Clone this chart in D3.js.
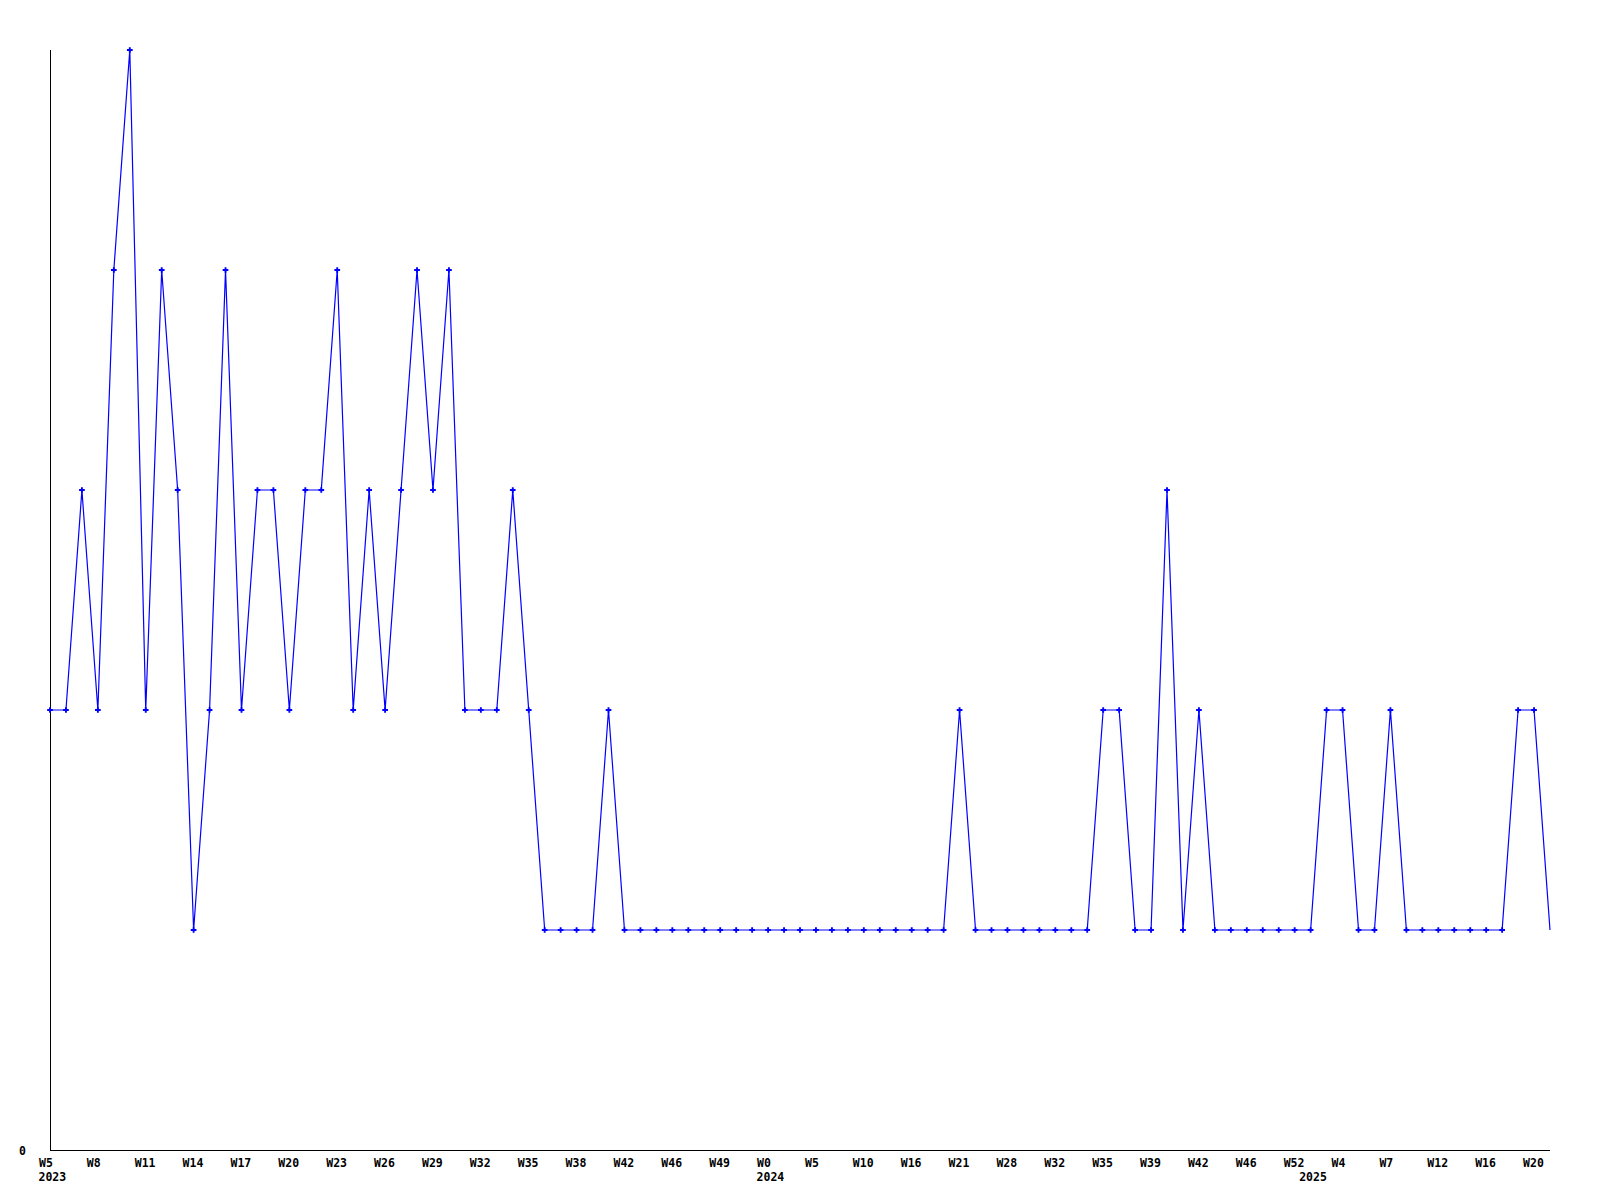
<!DOCTYPE html>
<html><head><meta charset="utf-8">
<script src="https://cdn.jsdelivr.net/npm/d3@7"></script>
<style>
html,body{margin:0;padding:0;background:#fff;}
svg text{font-family:"DejaVu Sans Mono","Liberation Mono",monospace;font-weight:bold;font-size:11.5px;fill:#000;}
</style></head>
<body>
<svg id="chart" width="1600" height="1200"></svg>
<script>
// weekly values, one per point
const values = [2,2,3,2,4,5,2,4,3,1, 2,4,2,3,3,2,3,3,4,2, 3,2,3,4,3,4,2,2,2,3,
  2,1,1,1,1,2,1,1,1,1, 1,1,1,1,1,1,1,1,1,1, 1,1,1,1,1,1,1,2,1,1,
  1,1,1,1,1,1,2,2,1,1, 3,1,2,1,1,1,1,1,1,1, 2,2,1,1,2,1,1,1,1,1,
  1,1,2,2,1];
// labels shown under every third point
const tickLabels = ["W5","W8","W11","W14","W17","W20","W23","W26","W29","W32","W35","W38",
  "W42","W46","W49","W0","W5","W10","W16","W21","W28","W32","W35","W39","W42","W46","W52",
  "W4","W7","W12","W16","W20"];
const yearLabels = ["2023","2024","2025"];
const yearStartIndex = [0,45,79];
const yTickLabels = ["0"];

(function(){
const svg = d3.select("#chart");
const mLeft = 50, mRight = 1550, mTop = 50, mBottom = 1150;
const idx = d3.range(values.length);
const x = d3.scalePoint().domain(idx).range([mLeft, mRight]);
const y = d3.scaleLinear().domain([0, 5]).range([mBottom, mTop]);

// axes lines
svg.append("line").attr("x1", mLeft+0.5).attr("x2", mLeft+0.5).attr("y1", mTop).attr("y2", mBottom)
  .attr("stroke", "#000").attr("stroke-width", 1).attr("shape-rendering","crispEdges");
svg.append("line").attr("x1", mLeft).attr("x2", mRight).attr("y1", mBottom+0.5).attr("y2", mBottom+0.5)
  .attr("stroke", "#000").attr("stroke-width", 1).attr("shape-rendering","crispEdges");

// x axis labels
const xAxis = d3.axisBottom(x)
  .tickValues(idx.filter(i => i % 3 === 0 && i/3 < tickLabels.length))
  .tickFormat(i => tickLabels[i/3])
  .tickSize(0).tickPadding(0);
const gx = svg.append("g").attr("transform", `translate(0,${mBottom})`).call(xAxis);
gx.select(".domain").remove();
gx.selectAll("text").attr("text-anchor","start").attr("dx", -11.5).attr("y", 0).attr("dy", 17)
  .attr("fill","#000");

// year labels
svg.append("g").selectAll("text").data(yearLabels).join("text")
  .attr("x", (d,i) => x(yearStartIndex[i]) - 11.5)
  .attr("y", mBottom + 31)
  .text(d => d);

// y axis label
const yAxis = d3.axisLeft(y).tickValues([0]).tickFormat((d,i) => yTickLabels[i]).tickSize(0).tickPadding(0);
const gy = svg.append("g").attr("transform", `translate(${mLeft},0)`).call(yAxis);
gy.select(".domain").remove();
gy.selectAll("text").attr("text-anchor","end").attr("dx", -24).attr("dy", "0.35em").attr("fill","#000");

// line
const line = d3.line().x((d,i) => x(i)).y(d => y(d));
svg.append("path").datum(values).attr("d", line)
  .attr("fill","none").attr("stroke","#0000ff").attr("stroke-width",1.2);

// markers (last point has none)
svg.append("g").selectAll("path").data(values.slice(0, values.length-1)).join("path")
  .attr("transform", (d,i) => `translate(${x(i)},${y(d)})`)
  .attr("d", d3.symbol(d3.symbolCross, 18))
  .attr("fill","#0000ff");
})();
</script>
</body></html>
